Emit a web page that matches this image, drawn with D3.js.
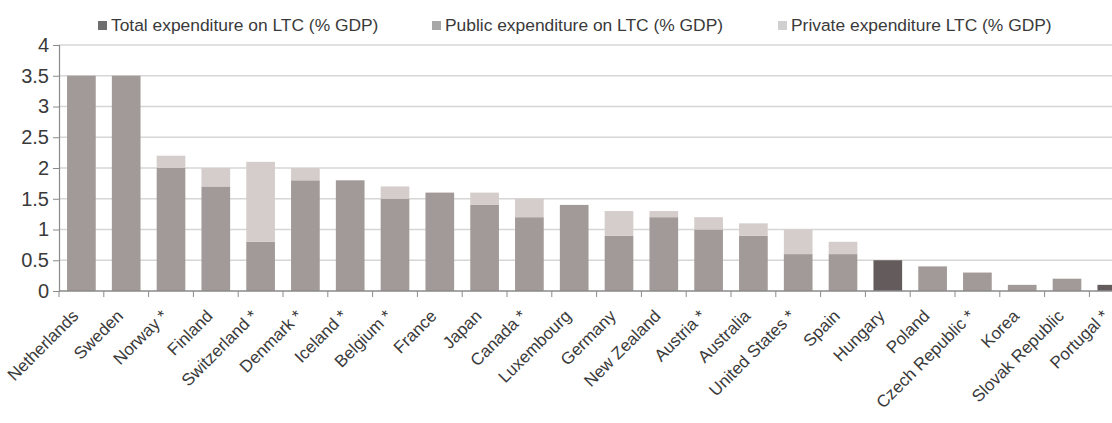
<!DOCTYPE html>
<html>
<head>
<meta charset="utf-8">
<script src="https://cdn.jsdelivr.net/npm/d3@7"></script>
<style>
  body { margin: 0; background: #fff; }
  text { font-family: "Liberation Sans", Arial, sans-serif; fill: #3a3a3a; }
</style>
</head>
<body>
<svg id="chart" width="1112" height="423"></svg>
<script>
// values
const countries = ["Netherlands", "Sweden", "Norway *", "Finland", "Switzerland *", "Denmark *",
  "Iceland *", "Belgium *", "France", "Japan", "Canada *", "Luxembourg", "Germany", "New Zealand",
  "Austria *", "Australia", "United States *", "Spain", "Hungary", "Poland", "Czech Republic *",
  "Korea", "Slovak Republic", "Portugal *"]
const totalOnly = [0, 0, 0, 0, 0, 0, 0, 0, 0, 0, 0, 0, 0, 0, 0, 0, 0, 0, 0.5, 0, 0, 0, 0, 0.1]
const publicExp = [3.5, 3.5, 2.0, 1.7, 0.8, 1.8, 1.8, 1.5, 1.6, 1.4, 1.2, 1.4, 0.9, 1.2, 1.0, 0.9, 0.6, 0.6, 0, 0.4, 0.3, 0.1, 0.2, 0]
const privateExp = [0, 0, 0.2, 0.3, 1.3, 0.2, 0, 0.2, 0, 0.2, 0.3, 0, 0.4, 0.1, 0.2, 0.2, 0.4, 0.2, 0, 0, 0, 0, 0, 0]
const yTicks = [0, 0.5, 1, 1.5, 2, 2.5, 3, 3.5, 4]

const seriesNames = ["Total expenditure on LTC (% GDP)", "Public expenditure on LTC (% GDP)", "Private expenditure LTC (% GDP)"]
const colors = ["#645c5c", "#a29a98", "#d5cdcc"]
const legendColors = ["#6e6e6e", "#a8a8a8", "#d0d0d0"]

const svg = d3.select("#chart")

const x = d3.scaleBand().domain(countries).range([59, 59 + 24 * 44.8]).paddingInner(0.36).paddingOuter(0.18)
const y = d3.scaleLinear().domain([0, 4]).range([291, 45])

// gridlines
svg.append("g").selectAll("line").data(yTicks.slice(1)).join("line")
  .attr("x1", 59).attr("x2", 1112)
  .attr("y1", d => y(d)).attr("y2", d => y(d))
  .attr("stroke", "#d6d6d6").attr("stroke-width", 1.5)

// stacked bars
const rows = countries.map((c, i) => ({ c, t: totalOnly[i], p: publicExp[i], q: privateExp[i] }))
const stack = d3.stack().keys(["t", "p", "q"])(rows)

svg.append("g").selectAll("g").data(stack).join("g")
  .attr("fill", (d, i) => colors[i])
  .selectAll("rect").data(d => d).join("rect")
  .attr("x", d => x(d.data.c))
  .attr("width", x.bandwidth())
  .attr("y", d => y(d[1]))
  .attr("height", d => y(d[0]) - y(d[1]))

// y axis
const yAxis = svg.append("g").attr("transform", "translate(59,0)")
  .call(d3.axisLeft(y).tickValues(yTicks).tickFormat(d3.format("")).tickSize(6).tickPadding(4))
yAxis.select(".domain").attr("stroke", "#8a8a8a").attr("stroke-width", 1.2)
yAxis.selectAll(".tick line").attr("stroke", "#8a8a8a")
yAxis.selectAll("text").style("font-size", "20px").attr("fill", "#3a3a3a")

// x axis: line + ticks at category boundaries
svg.append("line").attr("x1", 59).attr("x2", 1112).attr("y1", y(0)).attr("y2", y(0))
  .attr("stroke", "#8a8a8a").attr("stroke-width", 1.5)
svg.append("g").selectAll("line").data(countries).join("line")
  .attr("x1", d => x(d) - x.step() * x.paddingInner() / 2)
  .attr("x2", d => x(d) - x.step() * x.paddingInner() / 2)
  .attr("y1", y(0)).attr("y2", y(0) + 6)
  .attr("stroke", "#8a8a8a")

svg.append("g").selectAll("text").data(countries).join("text")
  .attr("transform", d => `translate(${x(d) + x.bandwidth() / 2 - 2},317) rotate(-45)`)
  .attr("text-anchor", "end")
  .style("font-size", "17px")
  .text(d => d)

// legend
const legendX = [98, 432, 778]
const lg = svg.append("g").selectAll("g").data(seriesNames).join("g")
  .attr("transform", (d, i) => `translate(${legendX[i]},0)`)
lg.append("rect").attr("x", 0).attr("y", 21).attr("width", 9).attr("height", 9)
  .attr("fill", (d, i) => legendColors[i])
lg.append("text").attr("x", 13).attr("y", 31).style("font-size", "17.4px").text(d => d)
</script>
</body>
</html>
